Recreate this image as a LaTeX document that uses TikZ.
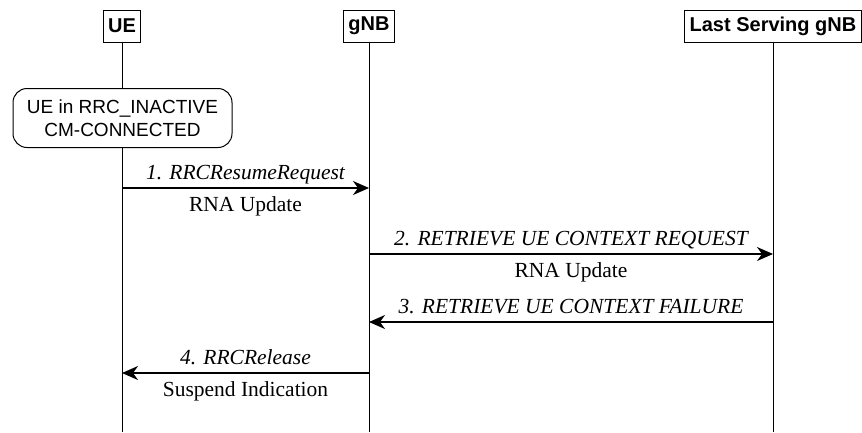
\documentclass[tikz,border=0pt]{standalone}
\usepackage{fontspec}
\setmainfont{Liberation Serif}
\setsansfont{Liberation Sans}
\usetikzlibrary{arrows.meta}
\begin{document}
\begin{tikzpicture}[x=1pt,y=-1pt,
        entity/.style={draw,line width=1pt,inner xsep=5pt,minimum height=32pt,
          font=\sffamily\bfseries\fontsize{20}{22}\selectfont},
        state/.style={draw,fill=white,line width=1pt,rounded corners=14pt,
          minimum width=219pt,minimum height=59pt,align=center,
          font=\sffamily\fontsize{19}{23}\selectfont},
        msg/.style={line width=1.6pt,-{Stealth[length=16pt,width=14pt,inset=5pt]}},
        top/.style={anchor=base,yshift=9pt,font=\itshape\fontsize{21.5}{24}\selectfont},
        bot/.style={anchor=base,yshift=-23pt,font=\fontsize{21.5}{24}\selectfont}]
        \useasboundingbox (0,0) rectangle (862,432);
        \coordinate (bottom) at (0,432);
        \node[entity] (ue) at (122,26) {UE};
        \node[entity] (gnb) at (369,26) {gNB};
        \node[entity] (last) at (773,26) {Last Serving gNB};
        \foreach \n in {ue,gnb,last}
          \draw[line width=1pt] (\n.south) -- (\n.south |- bottom);
        \node[state] (inactive) at (122.5,118) {UE in RRC\_INACTIVE\\CM-CONNECTED};
        \foreach \i/\y in {1/188,2/254,3/322,4/373}
          \coordinate (r\i) at (0,\y);
        \draw[msg] (ue |- r1) -- (gnb |- r1)
          node[midway,top] {1. RRCResumeRequest}
          node[midway,bot] {RNA Update};
        \draw[msg] (gnb |- r2) -- (last |- r2)
          node[midway,top] {2. RETRIEVE UE CONTEXT REQUEST}
          node[midway,bot] {RNA Update};
        \draw[msg] (last |- r3) -- (gnb |- r3)
          node[midway,top] {3. RETRIEVE UE CONTEXT FAILURE};
        \draw[msg] (gnb |- r4) -- (ue |- r4)
          node[midway,top] {4. RRCRelease}
          node[midway,bot] {Suspend Indication};
\end{tikzpicture}
\end{document}
